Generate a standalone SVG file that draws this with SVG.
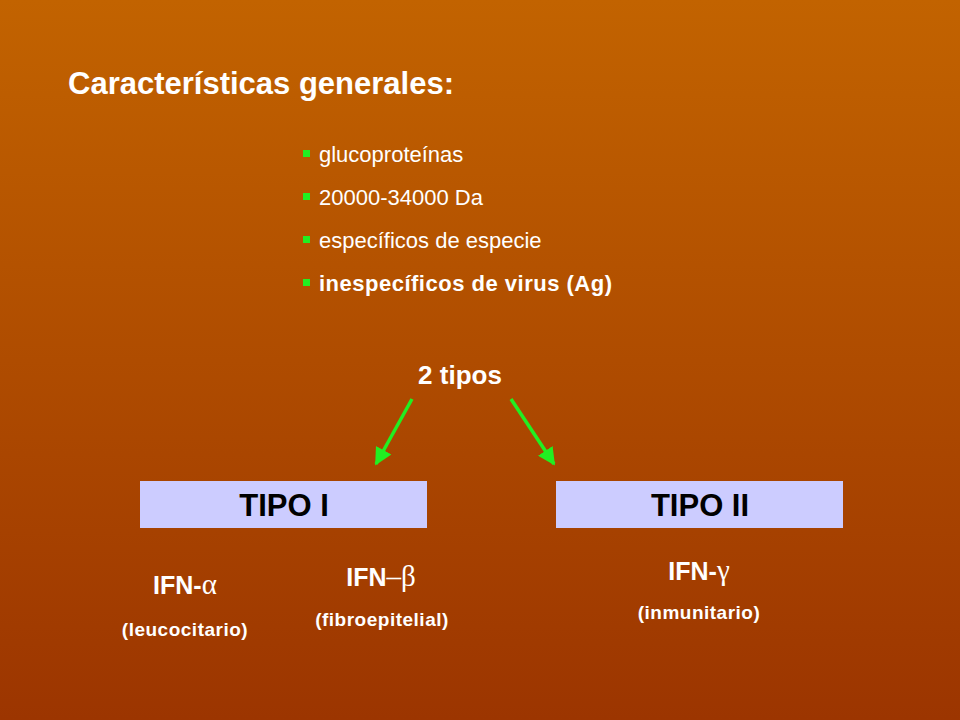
<svg xmlns="http://www.w3.org/2000/svg" width="960" height="720" viewBox="0 0 960 720">
<defs>
<linearGradient id="bg" x1="0" y1="0" x2="0" y2="1"><stop offset="0" stop-color="#c26300"/><stop offset="1" stop-color="#9c3500"/></linearGradient>
<marker id="ah" viewBox="0 0 10 10" refX="9" refY="5" markerWidth="5" markerHeight="5" orient="auto"><path d="M0,0L10,5L0,10z" fill="#22ee22"/></marker>
<style>
text{font-family:"Liberation Sans",Arial,sans-serif;fill:#fff}
.b{font-size:22px}
.bb{font-size:22px;font-weight:bold;letter-spacing:0.5px}
.sq{fill:#22ee22}
.box{fill:#ccccff}
.bt{font-size:31px;font-weight:bold;fill:#000;text-anchor:middle}
.ifn{font-size:25px;font-weight:bold;text-anchor:middle}
.g{font-family:"Liberation Serif","Times New Roman",serif;font-weight:normal;font-size:29px}
.sub{font-size:19px;font-weight:bold;text-anchor:middle;letter-spacing:0.5px}
.c{stroke:#22ee22;stroke-width:3.5;fill:none;marker-end:url(#ah)}
</style>
</defs>
<rect width="960" height="720" fill="url(#bg)"/>
<text x="68" y="94" style="font-size:31px;font-weight:bold">Características generales:</text>
<g id="bullets">
<rect class="sq" x="303" y="150" width="7" height="7"/><text class="b" x="319" y="162">glucoproteínas</text>
<rect class="sq" x="303" y="193" width="7" height="7"/><text class="b" x="319" y="205">20000-34000  Da</text>
<rect class="sq" x="303" y="236" width="7" height="7"/><text class="b" x="319" y="248">específicos de especie</text>
<rect class="sq" x="303" y="279" width="7" height="7"/><text class="bb" x="319" y="291">inespecíficos de virus (Ag)</text>
</g>
<g id="tipos"><text x="460" y="384" style="font-size:26px;font-weight:bold;text-anchor:middle">2 tipos</text></g>
<g id="connectors">
<line class="c" x1="412" y1="399" x2="376" y2="464"/>
<line class="c" x1="511" y1="399" x2="554" y2="464"/>
</g>
<g id="tipo1"><rect class="box" x="140" y="481" width="287" height="47"/><text class="bt" x="284" y="516">TIPO I</text></g>
<g id="tipo2"><rect class="box" x="556" y="481" width="287" height="47"/><text class="bt" x="700" y="516">TIPO II</text></g>
<g id="alpha"><text class="ifn" x="185" y="594">IFN-<tspan class="g">α</tspan></text><text class="sub" x="185" y="636">(leucocitario)</text></g>
<g id="beta"><text class="ifn" x="381" y="586">IFN<tspan class="g">–β</tspan></text><text class="sub" x="382" y="626">(fibroepitelial)</text></g>
<g id="gamma"><text class="ifn" x="699" y="580">IFN-<tspan class="g">γ</tspan></text><text class="sub" x="699" y="619">(inmunitario)</text></g>
</svg>
